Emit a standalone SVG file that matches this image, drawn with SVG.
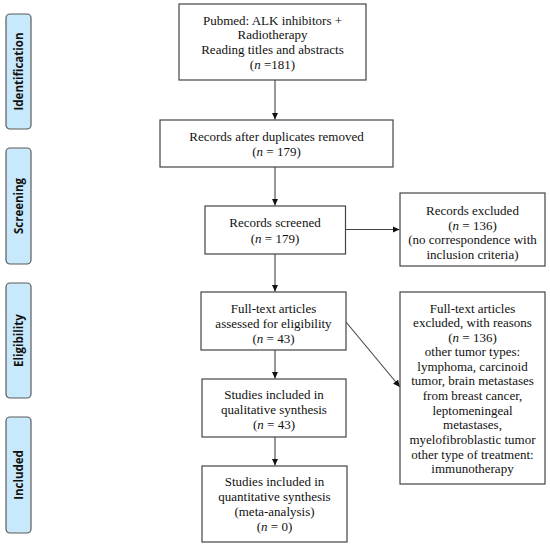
<svg xmlns="http://www.w3.org/2000/svg" width="550" height="549" viewBox="0 0 550 549">
<style>
.box{fill:#fff;stroke:#444;stroke-width:1.2}
.side{fill:#c8e9fb;stroke:#5a5a5a;stroke-width:1.2}
.t{font-family:"Liberation Serif","Times New Roman",serif;font-size:13px;fill:#111;text-anchor:middle}
.s{font-family:"Open Sans",sans-serif;font-weight:bold;font-size:11.5px;fill:#111;text-anchor:middle}
.c{stroke:#444;stroke-width:1.1;fill:none;marker-end:url(#ah)}
.i{font-style:italic}
</style>
<defs>
<marker id="ah" markerWidth="8" markerHeight="8" refX="7" refY="4" orient="auto" markerUnits="userSpaceOnUse">
<path d="M0,0.8 L7,4 L0,7.2 Z" fill="#111"/>
</marker>
</defs>
<rect width="550" height="549" fill="#fff"/>
<g id="side-identification"><rect class="side" x="6" y="14" width="25" height="115" rx="4"/><text class="s" transform="translate(22.5,71.5) rotate(-90)">Identification</text></g>
<g id="side-screening"><rect class="side" x="6" y="148" width="25" height="116" rx="4"/><text class="s" transform="translate(22.5,206) rotate(-90)">Screening</text></g>
<g id="side-eligibility"><rect class="side" x="6" y="283" width="25" height="115" rx="4"/><text class="s" transform="translate(22.5,340.5) rotate(-90)">Eligibility</text></g>
<g id="side-included"><rect class="side" x="6" y="417" width="25" height="116" rx="4"/><text class="s" transform="translate(22.5,475) rotate(-90)">Included</text></g>

<g id="connectors">
<line class="c" x1="275" y1="80" x2="275" y2="119.5"/>
<line class="c" x1="275" y1="167" x2="275" y2="205.5"/>
<line class="c" x1="346" y1="229.5" x2="399.5" y2="229.5"/>
<line class="c" x1="275" y1="254" x2="275" y2="291.5"/>
<line class="c" x1="346" y1="322" x2="400" y2="387"/>
<line class="c" x1="275" y1="350" x2="275" y2="378.5"/>
<line class="c" x1="275" y1="437" x2="275" y2="465.5"/>
</g>

<g id="n1"><rect class="box" x="179" y="4" width="187" height="76"/>
<text class="t" x="272.5" y="24.5">Pubmed: ALK inhibitors +</text>
<text class="t" x="272.5" y="39">Radiotherapy</text>
<text class="t" x="272.5" y="54">Reading titles and abstracts</text>
<text class="t" x="272.5" y="68.5">(<tspan class="i">n</tspan> =181)</text></g>

<g id="n2"><rect class="box" x="160" y="120" width="233" height="47"/>
<text class="t" x="276.5" y="140.5">Records after duplicates removed</text>
<text class="t" x="276.5" y="155.5">(<tspan class="i">n</tspan> = 179)</text></g>

<g id="n3"><rect class="box" x="205" y="206" width="140.5" height="48"/>
<text class="t" x="275" y="226.5">Records screened</text>
<text class="t" x="275" y="242.5">(<tspan class="i">n</tspan> = 179)</text></g>

<g id="n4"><rect class="box" x="400" y="193" width="145" height="73"/>
<text class="t" x="472.5" y="214.5">Records excluded</text>
<text class="t" x="472.5" y="229.5">(<tspan class="i">n</tspan> = 136)</text>
<text class="t" x="472.5" y="243.5">(no correspondence with</text>
<text class="t" x="472.5" y="258.5">inclusion criteria)</text></g>

<g id="n5"><rect class="box" x="201" y="292" width="145" height="58"/>
<text class="t" x="273.5" y="312.5">Full-text articles</text>
<text class="t" x="273.5" y="327.5">assessed for eligibility</text>
<text class="t" x="273.5" y="342.5">(<tspan class="i">n</tspan> = 43)</text></g>

<g id="n6"><rect class="box" x="202" y="379" width="144" height="58"/>
<text class="t" x="274" y="398.5">Studies included in</text>
<text class="t" x="274" y="414">qualitative synthesis</text>
<text class="t" x="274" y="428.5">(<tspan class="i">n</tspan> = 43)</text></g>

<g id="n7"><rect class="box" x="202" y="466" width="145" height="76"/>
<text class="t" x="274.5" y="485.5">Studies included in</text>
<text class="t" x="274.5" y="500.5">quantitative synthesis</text>
<text class="t" x="274.5" y="515.5">(meta-analysis)</text>
<text class="t" x="274.5" y="530.5">(<tspan class="i">n</tspan> = 0)</text></g>

<g id="n8"><rect class="box" x="400" y="292" width="145" height="192"/>
<text class="t" x="472.5" y="312.5">Full-text articles</text>
<text class="t" x="472.5" y="327">excluded, with reasons</text>
<text class="t" x="472.5" y="341.5">(<tspan class="i">n</tspan> = 136)</text>
<text class="t" x="472.5" y="356">other tumor types:</text>
<text class="t" x="472.5" y="370.5">lymphoma, carcinoid</text>
<text class="t" x="472.5" y="385">tumor, brain metastases</text>
<text class="t" x="472.5" y="400">from breast cancer,</text>
<text class="t" x="472.5" y="414.5">leptomeningeal</text>
<text class="t" x="472.5" y="429">metastases,</text>
<text class="t" x="472.5" y="444">myelofibroblastic tumor</text>
<text class="t" x="472.5" y="458.5">other type of treatment:</text>
<text class="t" x="472.5" y="473">immunotherapy</text></g>
</svg>
